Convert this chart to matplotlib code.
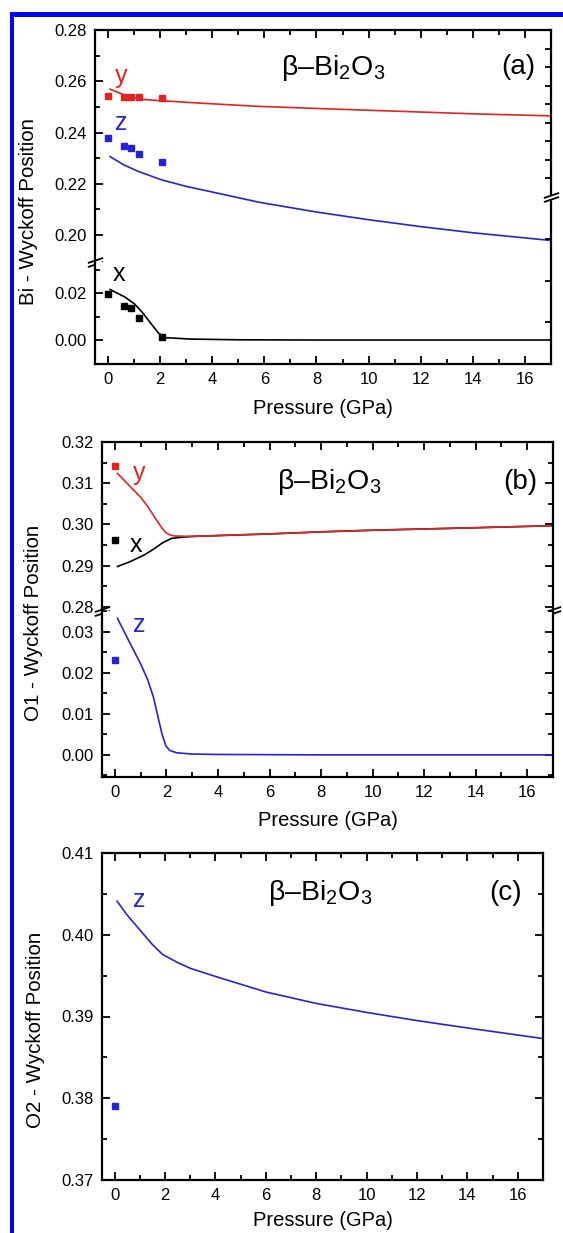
import numpy as np
import matplotlib
matplotlib.use('Agg')
import matplotlib.pyplot as plt
from matplotlib.ticker import MultipleLocator, FormatStrFormatter
from matplotlib.path import Path
from matplotlib.patches import Rectangle

plt.rcParams['font.family'] = ['Liberation Sans', 'DejaVu Sans']
plt.rcParams['mathtext.fontset'] = 'custom'
plt.rcParams['mathtext.rm'] = 'Liberation Sans'

RED = '#e32222'
BLUE = '#2424d6'

# ---- panel (a): Bi ----
bi_y_calc_p = [0.08, 0.6, 1.17, 2.07, 3, 4, 5.8, 8, 10, 12, 14, 17]
bi_y_calc = [0.2569, 0.2548, 0.2530, 0.2524, 0.2518, 0.2512, 0.2502, 0.2494, 0.2487, 0.2480, 0.2473, 0.2465]
bi_z_calc_p = [0.08, 0.6, 1.17, 2.07, 3, 4, 5.8, 8, 10, 12, 14, 17]
bi_z_calc = [0.2306, 0.2274, 0.2248, 0.2215, 0.2190, 0.2168, 0.2128, 0.2090, 0.2060, 0.2033, 0.2009, 0.1979]
bi_x_calc_p = [0.08, 0.66, 1.0, 1.3, 1.62, 1.94, 2.2, 3.2, 5, 8, 12, 17]
bi_x_calc = [0.0215, 0.0182, 0.0155, 0.0120, 0.0074, 0.0029, 0.0010, 0.0004, 0.0001, 0.0, 0.0, 0.0]
bi_exp_p = [0.0, 0.62, 0.88, 1.17, 2.07]
bi_y_exp = [0.2543, 0.2538, 0.2538, 0.2540, 0.2534]
bi_z_exp = [0.2378, 0.2348, 0.2339, 0.2317, 0.2287]
bi_x_exp = [0.0195, 0.0146, 0.0135, 0.0093, 0.0015]

# ---- panel (b): O1 ----
o1_y_calc_p = [0.1, 0.5, 1.0, 1.28, 1.6, 1.84, 1.98, 2.12, 2.3, 3, 4, 6, 8, 10, 12, 14, 17]
o1_y_calc = [0.3124, 0.3098, 0.3066, 0.3043, 0.3012, 0.2990, 0.2980, 0.2975, 0.2972, 0.2971, 0.2973, 0.2977, 0.2982, 0.2986, 0.2989, 0.2992, 0.2997]
o1_x_calc_p = [0.1, 0.6, 1.14, 1.5, 1.84, 2.19, 2.6, 3, 4, 6, 8, 10, 12, 14, 17]
o1_x_calc = [0.2898, 0.2910, 0.2926, 0.2940, 0.2955, 0.2966, 0.2969, 0.2971, 0.2973, 0.2977, 0.2982, 0.2986, 0.2989, 0.2992, 0.2997]
o1_z_calc_p = [0.1, 0.59, 1.0, 1.28, 1.5, 1.7, 1.84, 1.98, 2.12, 2.4, 3, 4, 8, 17]
o1_z_calc = [0.0333, 0.0272, 0.0222, 0.0182, 0.0140, 0.0085, 0.0048, 0.0022, 0.0011, 0.0005, 0.0002, 0.0001, 0.0, 0.0]
o1_exp_p = [0.0]
o1_y_exp = [0.3142]
o1_x_exp = [0.2962]
o1_z_exp = [0.0231]

# ---- panel (c): O2 ----
o2_z_calc_p = [0.1, 0.5, 1.0, 1.5, 1.9, 2.5, 3, 4, 6, 8, 10, 12, 14, 17]
o2_z_calc = [0.4041, 0.4024, 0.4006, 0.3988, 0.3976, 0.3966, 0.3959, 0.3949, 0.3930, 0.3916, 0.3905, 0.3895, 0.3886, 0.3873]
o2_exp_p = [0.0]
o2_z_exp = [0.3790]

W, H = 563, 1233
fig = plt.figure(figsize=(W / 100, H / 100), dpi=100)


def fbox(l, r, t, b):
    return [l / W, 1 - b / H, (r - l) / W, (b - t) / H]


def style(ax, major, minor, fmt='%.2f'):
    ax.set_xlim(-0.5, 17)
    ax.xaxis.set_major_locator(MultipleLocator(2))
    ax.xaxis.set_minor_locator(MultipleLocator(1))
    ax.yaxis.set_major_locator(MultipleLocator(major))
    ax.yaxis.set_minor_locator(MultipleLocator(minor))
    ax.yaxis.set_major_formatter(FormatStrFormatter(fmt))
    ax.tick_params(which='both', direction='in', top=True, right=True, width=1.3, labelsize=12)
    ax.tick_params(which='major', length=6)
    ax.tick_params(which='minor', length=3.5)
    ax.tick_params(axis='y', pad=6)
    ax.tick_params(axis='x', pad=6)
    for s in ax.spines.values():
        s.set_linewidth(1.6)


def split(top, bot):
    top.spines['bottom'].set_visible(False)
    bot.spines['top'].set_visible(False)
    top.tick_params(which='both', bottom=False, labelbottom=False)
    bot.tick_params(which='both', top=False)


slash = Path([(-1, -0.6), (1, 0.07), (-1, -0.07), (1, 0.6)],
             [Path.MOVETO, Path.LINETO, Path.MOVETO, Path.LINETO])
gap = Path([(-1, -0.52), (1, 0.15), (1, 0.52), (-1, -0.15), (-1, -0.52)],
           [Path.MOVETO, Path.LINETO, Path.LINETO, Path.LINETO, Path.CLOSEPOLY])


def brk(ax, xs, y):
    ax.plot(xs, [y] * len(xs), transform=ax.transAxes, marker=gap, ms=11, ls='none',
            mfc='white', mec='white', mew=0, clip_on=False, zorder=10)
    ax.plot(xs, [y] * len(xs), transform=ax.transAxes, marker=slash, ms=11, ls='none',
            mfc='none', mec='k', mew=1.3, clip_on=False, zorder=11)


def curve(ax, p, v, c):
    ax.plot(p, v, color=c, lw=1.2)


def dots(ax, p, v, c):
    ax.plot(p, v, ls='none', marker='s', ms=5, color=c)


# panel (a)
a_top = fig.add_axes(fbox(95, 551, 30, 262))
a_bot = fig.add_axes(fbox(95, 551, 262, 364))
style(a_top, 0.02, 0.01)
style(a_bot, 0.02, 0.01)
split(a_top, a_bot)
a_top.set_ylim(0.1895, 0.28)
a_bot.set_ylim(-0.0102, 0.0332)
for ax in (a_top, a_bot):
    ax.spines['right'].set_visible(False)
    ax.tick_params(which='both', right=False)
curve(a_top, bi_y_calc_p, bi_y_calc, RED)
curve(a_top, bi_z_calc_p, bi_z_calc, BLUE)
curve(a_bot, bi_x_calc_p, bi_x_calc, 'k')
dots(a_top, bi_exp_p, bi_y_exp, RED)
dots(a_top, bi_exp_p, bi_z_exp, BLUE)
dots(a_bot, bi_exp_p, bi_x_exp, 'k')
a_top.text(0.5, 0.2622, 'y', color=RED, fontsize=18, ha='center', va='center')
a_top.text(0.5, 0.2436, 'z', color=BLUE, fontsize=18, ha='center', va='center')
a_bot.text(0.42, 0.0280, 'x', color='k', fontsize=18, ha='center', va='center')
a_top.text(8.65, 0.2652, r'β–Bi$\mathregular{_2}$O$\mathregular{_3}$', fontsize=20.5, ha='center', va='center')
a_top.text(15.75, 0.2656, '(a)', fontsize=20, ha='center', va='center')
brk(a_top, [0], 0)
# right axis of panel (a) has its own break position and ticks
a_r = fig.add_axes(fbox(95, 551, 30, 364))
a_r.patch.set_visible(False)
for k in ('left', 'top', 'bottom'):
    a_r.spines[k].set_visible(False)
a_r.spines['right'].set_linewidth(1.6)
a_r.set_xticks([])
a_r.set_ylim(0, 1)
a_r.yaxis.tick_right()
a_r.set_yticks(list(0.5 + np.arange(1, 9) / 18) + [0.125, 0.25, 0.375])
a_r.tick_params(axis='y', direction='in', length=4.5, width=1.3, labelright=False)
brk(a_r, [1], 0.5)
fig.text(29 / W, 1 - 211 / H, 'Bi - Wyckoff Position', rotation=90, fontsize=14.8, ha='center', va='center')
fig.text(323 / W, 1 - 408 / H, 'Pressure (GPa)', fontsize=14.5, ha='center', va='center')

# panel (b)
b_top = fig.add_axes(fbox(102, 553, 442, 611))
b_bot = fig.add_axes(fbox(102, 553, 611, 777))
style(b_top, 0.01, 0.005)
style(b_bot, 0.01, 0.005)
split(b_top, b_bot)
b_top.set_ylim(0.279, 0.32)
b_bot.set_ylim(-0.0054, 0.0351)
curve(b_top, o1_x_calc_p, o1_x_calc, 'k')
curve(b_top, o1_y_calc_p, o1_y_calc, RED)
curve(b_bot, o1_z_calc_p, o1_z_calc, BLUE)
dots(b_top, o1_exp_p, o1_y_exp, RED)
dots(b_top, o1_exp_p, o1_x_exp, 'k')
dots(b_bot, o1_exp_p, o1_z_exp, BLUE)
b_top.text(0.93, 0.3125, 'y', color=RED, fontsize=18, ha='center', va='center')
b_top.text(0.8, 0.2951, 'x', color='k', fontsize=18, ha='center', va='center')
b_bot.text(0.93, 0.0317, 'z', color=BLUE, fontsize=18, ha='center', va='center')
b_top.text(8.32, 0.3104, r'β–Bi$\mathregular{_2}$O$\mathregular{_3}$', fontsize=20.5, ha='center', va='center')
b_top.text(15.75, 0.3104, '(b)', fontsize=20, ha='center', va='center')
brk(b_top, [0, 1], 0)
fig.text(34 / W, 1 - 623 / H, 'O1 - Wyckoff Position', rotation=90, fontsize=14.8, ha='center', va='center')
fig.text(328 / W, 1 - 820 / H, 'Pressure (GPa)', fontsize=14.5, ha='center', va='center')

# panel (c)
c_ax = fig.add_axes(fbox(102, 543, 853, 1180))
style(c_ax, 0.01, 0.005)
c_ax.set_ylim(0.37, 0.41)
curve(c_ax, o2_z_calc_p, o2_z_calc, BLUE)
dots(c_ax, o2_exp_p, o2_z_exp, BLUE)
c_ax.text(0.99, 0.4043, 'z', color=BLUE, fontsize=18, ha='center', va='center')
c_ax.text(8.17, 0.4051, r'β–Bi$\mathregular{_2}$O$\mathregular{_3}$', fontsize=20.5, ha='center', va='center')
c_ax.text(15.5, 0.4051, '(c)', fontsize=20, ha='center', va='center')
fig.text(36 / W, 1 - 1030 / H, 'O2 - Wyckoff Position', rotation=90, fontsize=14.8, ha='center', va='center')
fig.text(323 / W, 1 - 1221 / H, 'Pressure (GPa)', fontsize=14.5, ha='center', va='center')

# blue frame on the top and left edge
fig.add_artist(Rectangle((9.5 / W, 0), 4.5 / W, 1 - 12 / H, transform=fig.transFigure, color='#0000ff', lw=0))
fig.add_artist(Rectangle((9.5 / W, 1 - 17 / H), 1, 5 / H, transform=fig.transFigure, color='#0000ff', lw=0))

fig.savefig('out.png', dpi=100)
